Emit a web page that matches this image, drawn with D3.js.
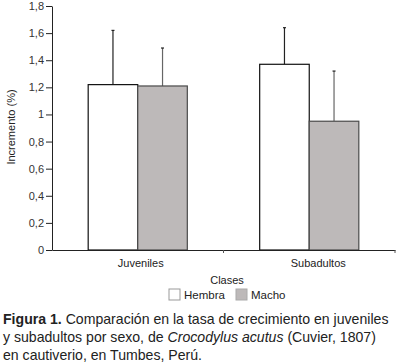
<!DOCTYPE html>
<html>
<head>
<meta charset="utf-8">
<script src="https://cdn.jsdelivr.net/npm/d3@7"></script>
<style>
  body { margin: 0; background: #fff; }
  svg { display: block; font-family: "Liberation Sans", Arial, sans-serif; }
</style>
</head>
<body>
<svg id="chart" width="400" height="364"></svg>
<script>
"use strict";

// data
let clases = ["Juveniles", "Subadultos"];
let sexos = ["Hembra", "Macho"];
let hembra = [1.22, 1.37];
let macho = [1.21, 0.95];
let hembraSup = [1.62, 1.64];   // top of error bar
let machoSup = [1.49, 1.32];
let yTicks = [0, 0.2, 0.4, 0.6, 0.8, 1, 1.2, 1.4, 1.6, 1.8];

let fills = { Hembra: "#ffffff", Macho: "#bdb9b9" };
let strokes = { Hembra: "#111", Macho: "#4a4a4a" };

let svg = d3.select("#chart");
let mLeft = 52, mRight = 395, mTop = 6, mBottom = 250;

let x = d3.scaleBand().domain(clases).range([mLeft, mRight]);
let xs = d3.scaleBand().domain(sexos).range([0, x.bandwidth()]).paddingInner(0).paddingOuter(0.73);
let y = d3.scaleLinear().domain([0, 1.8]).range([mBottom, mTop]);

let fmt = d => String(d).replace(".", ",");

// y axis
let ya = svg.append("g")
  .attr("transform", "translate(" + mLeft + ",0)")
  .call(d3.axisLeft(y).tickValues(yTicks).tickFormat(fmt).tickSize(6).tickPadding(2).tickSizeOuter(0));
ya.select(".domain").attr("stroke", "#222");
ya.selectAll(".tick line").attr("stroke", "#222");
ya.selectAll(".tick text").attr("fill", "#333").style("font-size", "11px").style("font-family", "inherit");

// data rows
let rows = [];
clases.forEach((c, i) => {
  rows.push({ clase: c, sexo: "Hembra", v: hembra[i], sup: hembraSup[i] });
  rows.push({ clase: c, sexo: "Macho", v: macho[i], sup: machoSup[i] });
});

// error bars (upper only)
let eb = svg.append("g").selectAll("g").data(rows).enter().append("g");
eb.append("line")
  .attr("x1", d => x(d.clase) + xs(d.sexo) + xs.bandwidth() / 2)
  .attr("x2", d => x(d.clase) + xs(d.sexo) + xs.bandwidth() / 2)
  .attr("y1", d => y(d.v))
  .attr("y2", d => y(d.sup))
  .attr("stroke", d => d.sexo === "Hembra" ? "#222" : "#666")
  .attr("stroke-width", 1.2);
eb.append("line")
  .attr("x1", d => x(d.clase) + xs(d.sexo) + xs.bandwidth() / 2 - 1.5)
  .attr("x2", d => x(d.clase) + xs(d.sexo) + xs.bandwidth() / 2 + 1.5)
  .attr("y1", d => y(d.sup))
  .attr("y2", d => y(d.sup))
  .attr("stroke", "#222")
  .attr("stroke-width", 1.2);

// bars
svg.append("g").selectAll("rect").data(rows).enter().append("rect")
  .attr("x", d => x(d.clase) + xs(d.sexo))
  .attr("y", d => y(d.v))
  .attr("width", xs.bandwidth())
  .attr("height", d => y(0) - y(d.v))
  .attr("fill", d => fills[d.sexo])
  .attr("stroke", d => strokes[d.sexo])
  .attr("stroke-width", 1.2);

// x axis
let xa = svg.append("g")
  .attr("transform", "translate(0," + mBottom + ")")
  .call(d3.axisBottom(x).tickValues([]).tickSizeOuter(0));
xa.select(".domain").attr("stroke", "#222").attr("stroke-width", 1.2);
xa.selectAll(".sep").data([clases[1]]).enter().append("line")
  .attr("x1", d => x(d)).attr("x2", d => x(d))
  .attr("y1", 0).attr("y2", 3).attr("stroke", "#555");
xa.append("line").attr("x1", mRight).attr("x2", mRight).attr("y1", 0).attr("y2", 3).attr("stroke", "#555");

svg.append("g").selectAll("text").data(clases).enter().append("text")
  .attr("x", (d, i) => x(d) + x.bandwidth() / 2 + (i === 0 ? 3 : 9))
  .attr("y", 267)
  .attr("text-anchor", "middle")
  .attr("fill", "#222")
  .style("font-size", "11px")
  .text(d => d);

// axis titles
svg.append("text")
  .attr("transform", "translate(15,127) rotate(-90)")
  .attr("text-anchor", "middle")
  .attr("fill", "#222")
  .style("font-size", "11px")
  .text("Incremento (%)");

svg.append("text")
  .attr("x", 227).attr("y", 284)
  .attr("text-anchor", "middle")
  .attr("fill", "#222")
  .style("font-size", "11px")
  .text("Clases");

// legend
let legX = [169, 236];
let leg = svg.append("g").selectAll("g").data(sexos).enter().append("g")
  .attr("transform", (d, i) => "translate(" + legX[i] + ",289)");
leg.append("rect")
  .attr("width", 11).attr("height", 11)
  .attr("fill", d => fills[d])
  .attr("stroke", d => d === "Hembra" ? "#999" : "#aaa");
leg.append("text")
  .attr("x", 15).attr("y", 10)
  .attr("fill", "#222")
  .style("font-size", "11.5px")
  .text(d => d);

// caption
let cap = svg.append("text").attr("fill", "#222").style("font-size", "14.1px");
let l1 = cap.append("tspan").attr("x", 3).attr("y", 324);
l1.append("tspan").style("font-weight", "bold").text("Figura 1.");
l1.append("tspan").text(" Comparación en la tasa de crecimiento en juveniles");
let l2 = cap.append("tspan").attr("x", 3).attr("y", 342);
l2.append("tspan").text("y subadultos por sexo, de ");
l2.append("tspan").style("font-style", "italic").text("Crocodylus acutus");
l2.append("tspan").text(" (Cuvier, 1807)");
cap.append("tspan").attr("x", 3).attr("y", 360).text("en cautiverio, en Tumbes, Perú.");
</script>
</body>
</html>
